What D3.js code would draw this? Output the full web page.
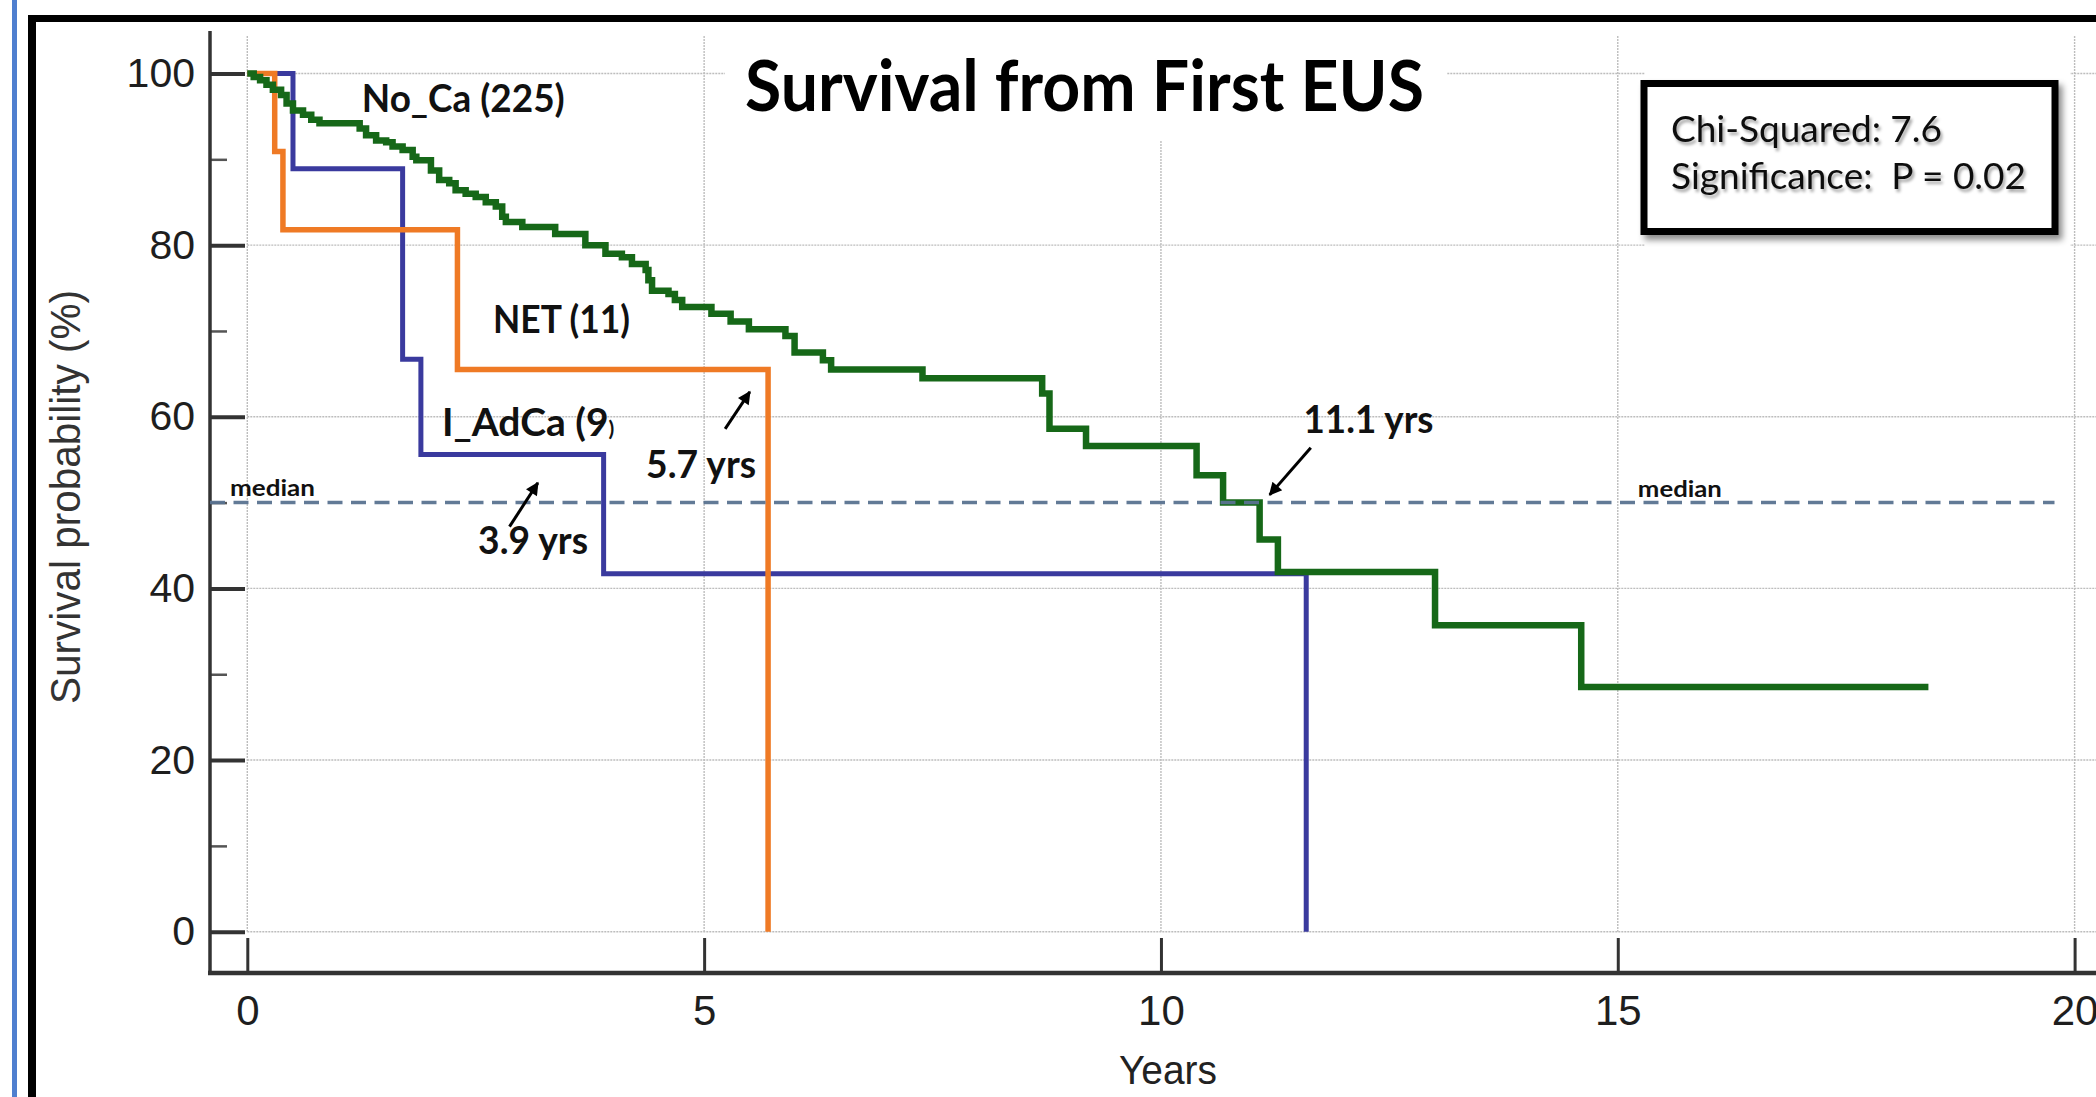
<!DOCTYPE html>
<html>
<head>
<meta charset="utf-8">
<script src="https://d3js.org/d3.v7.min.js"></script>
<style>
  body { margin: 0; background: #fff; }
  svg { display: block; }
  .tick text { font-family: "Liberation Sans", Arial, sans-serif; fill: #1e1e1e; }
</style>
</head>
<body>
<svg width="2096" height="1097"></svg>
<script>
// ---- data ----
var xTicks = [0, 5, 10, 15, 20];
var yTicks = [0, 20, 40, 60, 80, 100];
var yMinorTicks = [10, 30, 50, 70, 90];

// No_Ca (225): step times (years) and survival (%) after each step
var nocaTimes = [0, 0.07, 0.14, 0.21, 0.28, 0.37, 0.43, 0.50, 0.61, 0.70, 0.79, 1.23, 1.30, 1.41, 1.52,
  1.59, 1.70, 1.81, 1.85, 2.01, 2.10, 2.21, 2.28, 2.39, 2.50, 2.61, 2.72, 2.79, 2.83, 3.01, 3.37,
  3.70, 3.92, 4.10, 4.21, 4.36, 4.39, 4.43, 4.61, 4.68, 4.76, 5.08, 5.29, 5.49, 5.89, 5.99, 6.30,
  6.39, 7.39, 8.70, 8.78, 9.18, 10.39, 10.68, 11.08, 11.28, 13.0, 14.6, 18.4];
var nocaSurv = [100, 99.6, 99.2, 98.7, 98.1, 97.5, 96.5, 95.7, 95.2, 94.6, 94.2, 93.6, 92.8, 92.2, 92.0,
  91.5, 91.1, 90.3, 89.9, 88.7, 87.6, 87.2, 86.4, 86.0, 85.6, 85.0, 84.5, 83.3, 82.7, 82.1, 81.3,
  80.0, 79.0, 78.6, 77.8, 77.1, 75.9, 74.7, 74.3, 73.6, 72.8, 72.0, 71.1, 70.2, 69.4, 67.5, 66.6,
  65.5, 64.5, 62.7, 58.6, 56.6, 53.2, 50.0, 45.7, 41.9, 35.7, 28.5, 28.5];

// NET (11)
var netTimes = [0, 0.30, 0.39, 2.30, 5.70];
var netSurv = [100, 90.9, 81.8, 65.5, 0];

// I_AdCa (9)
var adcaTimes = [0, 0.50, 1.70, 1.90, 3.90, 11.59];
var adcaSurv = [100, 88.9, 66.7, 55.6, 41.7, 0];

var medianLevel = 50;
var medianYears = ["11.1 yrs", "5.7 yrs", "3.9 yrs"];
var groupNames = ["No_Ca (225)", "NET (11)", "I_AdCa (9)"];
var chartTitle = "Survival from First EUS";
var statLines = ["Chi-Squared: 7.6", "Significance:  P = 0.02"];

// ---- drawing ----
var svg = d3.select("svg");

var x = d3.scaleLinear().domain([0, 20]).range([247.3, 2074.6]);
var y = d3.scaleLinear().domain([0, 100]).range([931.7, 73.5]);

var defs = svg.append("defs");
var sh = defs.append("filter").attr("id", "boxShadow").attr("x", "-10%").attr("y", "-10%").attr("width", "130%").attr("height", "140%");
sh.append("feDropShadow").attr("dx", 4).attr("dy", 5).attr("stdDeviation", 3).attr("flood-color", "#000").attr("flood-opacity", 0.45);
var tsh = defs.append("filter").attr("id", "textShadow").attr("x", "-5%").attr("y", "-20%").attr("width", "115%").attr("height", "160%");
tsh.append("feDropShadow").attr("dx", 2).attr("dy", 3).attr("stdDeviation", 1.6).attr("flood-color", "#000").attr("flood-opacity", 0.35);
defs.append("marker").attr("id", "arrow")
    .attr("viewBox", "0 0 10 10").attr("refX", 9).attr("refY", 5)
    .attr("markerWidth", 15).attr("markerHeight", 13).attr("markerUnits", "userSpaceOnUse")
    .attr("orient", "auto")
  .append("path").attr("d", "M0,0 L10,5 L0,10 z").attr("fill", "#000");

// page frame
svg.append("rect").attr("x", 12).attr("y", 0).attr("width", 5).attr("height", 1097).attr("fill", "#4f7fcf");
svg.append("rect").attr("x", 28).attr("y", 15).attr("width", 8).attr("height", 1082).attr("fill", "#000");
svg.append("rect").attr("x", 28).attr("y", 15).attr("width", 2068).attr("height", 7).attr("fill", "#000");

// grid
var grid = svg.append("g").attr("stroke", "#bdbdbd").attr("stroke-width", 1.4).attr("stroke-dasharray", "2 1");
grid.selectAll(".gx").data(xTicks).enter().append("line")
    .attr("x1", function(d) { return x(d); }).attr("x2", function(d) { return x(d); })
    .attr("y1", 36).attr("y2", y(0));
grid.selectAll(".gy").data(yTicks).enter().append("line")
    .attr("x1", x(0)).attr("x2", 2096)
    .attr("y1", function(d) { return y(d); }).attr("y2", function(d) { return y(d); });

// white areas behind title and stats text box
svg.append("rect").attr("x", 725).attr("y", 34).attr("width", 722).attr("height", 106).attr("fill", "#fff");
svg.append("rect").attr("x", 1645).attr("y", 40).attr("width", 425).attr("height", 340).attr("fill", "#fff");

// axes
var yAxis = svg.append("g").attr("transform", "translate(210,0)")
    .call(d3.axisLeft(y).tickValues(yTicks).tickSizeInner(-35).tickSizeOuter(0).tickPadding(15));
yAxis.select(".domain").remove();
yAxis.selectAll("line").attr("stroke", "#333").attr("stroke-width", 4);
yAxis.selectAll("text").attr("font-size", 41);

var yMinor = svg.append("g").attr("transform", "translate(210,0)")
    .call(d3.axisLeft(y).tickValues(yMinorTicks).tickSize(-17).tickFormat(""));
yMinor.select(".domain").remove();
yMinor.selectAll("line").attr("stroke", "#555").attr("stroke-width", 2.5);

var xAxis = svg.append("g").attr("transform", "translate(0,973)")
    .call(d3.axisBottom(x).tickValues(xTicks).tickSizeInner(-35).tickSizeOuter(0).tickPadding(22));
xAxis.select(".domain").remove();
xAxis.selectAll("line").attr("stroke", "#333").attr("stroke-width", 3);
xAxis.selectAll("text").attr("font-size", 42);

svg.append("line").attr("x1", 210).attr("x2", 210).attr("y1", 31).attr("y2", 975)
    .attr("stroke", "#333").attr("stroke-width", 3.5);
svg.append("line").attr("x1", 208).attr("x2", 2096).attr("y1", 973).attr("y2", 973)
    .attr("stroke", "#333").attr("stroke-width", 4.5);

svg.append("text").attr("x", 1168).attr("y", 1084).attr("text-anchor", "middle")
    .attr("font-family", "Liberation Sans, Arial, sans-serif").attr("font-size", 41).attr("fill", "#222")
    .attr("textLength", 98).attr("lengthAdjust", "spacingAndGlyphs")
    .text("Years");
svg.append("text").attr("transform", "translate(80,497) rotate(-90)").attr("text-anchor", "middle")
    .attr("font-family", "Liberation Sans, Arial, sans-serif").attr("font-size", 42).attr("fill", "#333")
    .attr("textLength", 414).attr("lengthAdjust", "spacingAndGlyphs")
    .text("Survival probability (%)");

// survival curves
var line = d3.line()
    .x(function(d) { return x(d[0]); })
    .y(function(d) { return y(d[1]); })
    .curve(d3.curveStepAfter);

var curves = [
  { t: adcaTimes, s: adcaSurv, color: "#3a3a9e", w: 5 },
  { t: netTimes, s: netSurv, color: "#ef7a25", w: 5.5 },
  { t: nocaTimes, s: nocaSurv, color: "#166818", w: 6.5 }
];
curves.forEach(function(c) {
  svg.append("path")
      .datum(d3.zip(c.t, c.s))
      .attr("d", line)
      .attr("fill", "none")
      .attr("stroke", c.color)
      .attr("stroke-width", c.w);
});

// median line
svg.append("line").attr("x1", 210).attr("x2", x(19.78))
    .attr("y1", y(medianLevel)).attr("y2", y(medianLevel))
    .attr("stroke", "#5a7391").attr("stroke-width", 3.5).attr("stroke-dasharray", "15 8.5")
    .attr("opacity", 0.95);

// annotations (baseline-left in data units)
function label(txt, tx, ty, size, width, bold) {
  return svg.append("text")
      .attr("x", x(tx)).attr("y", y(ty))
      .attr("font-family", "Lato, 'Open Sans', sans-serif")
      .attr("font-weight", bold ? 700 : 400)
      .attr("font-size", size)
      .attr("fill", "#111")
      .attr("textLength", width).attr("lengthAdjust", "spacingAndGlyphs")
      .text(txt);
}
label(groupNames[0], 1.253, 95.55, 39, 203, true);
label(groupNames[1], 2.69, 69.8, 39, 137, true);
// the closing bracket of "(9)" is drawn small in the original
svg.append("text")
    .attr("x", x(2.13)).attr("y", y(57.76))
    .attr("font-family", "Lato, 'Open Sans', sans-serif")
    .attr("font-weight", 700).attr("font-size", 39).attr("fill", "#111")
    .text(groupNames[2].slice(0, -1))
    .append("tspan").attr("font-size", 21).text(groupNames[2].slice(-1));
label(medianYears[1], 4.365, 52.83, 38, 110, true);
label(medianYears[2], 2.526, 44.0, 38, 110, true);
label(medianYears[0], 11.56, 58.15, 38, 130, true);
label("median", -0.19, 50.77, 23, 85, true);
label("median", 15.22, 50.71, 23, 84, true);

var arrows = [
  [[5.23, 58.6], [5.50, 62.9]],
  [[2.87, 47.2], [3.18, 52.3]],
  [[11.64, 56.4], [11.19, 50.9]]
];
arrows.forEach(function(a) {
  svg.append("line")
      .attr("x1", x(a[0][0])).attr("y1", y(a[0][1]))
      .attr("x2", x(a[1][0])).attr("y2", y(a[1][1]))
      .attr("stroke", "#000").attr("stroke-width", 3)
      .attr("marker-end", "url(#arrow)");
});

// title
svg.append("text").attr("x", 745).attr("y", 111)
    .attr("font-family", "Lato, 'Open Sans', sans-serif").attr("font-weight", 700)
    .attr("font-size", 70).attr("fill", "#000")
    .attr("textLength", 679).attr("lengthAdjust", "spacingAndGlyphs")
    .text(chartTitle);

// stats box
svg.append("rect").attr("x", 1644).attr("y", 83.5).attr("width", 411).attr("height", 148)
    .attr("fill", "#fff").attr("stroke", "#000").attr("stroke-width", 7)
    .attr("filter", "url(#boxShadow)");
var statG = svg.append("g").attr("filter", "url(#textShadow)");
statLines.forEach(function(s, i) {
  statG.append("text")
      .attr("x", 1671).attr("y", 142 + i * 46.6)
      .attr("font-family", "Lato, 'Open Sans', sans-serif")
      .attr("font-size", 37).attr("fill", "#111")
      .style("white-space", "pre")
      .attr("textLength", i === 0 ? 271 : 355).attr("lengthAdjust", "spacingAndGlyphs")
      .text(s);
});
</script>
</body>
</html>
